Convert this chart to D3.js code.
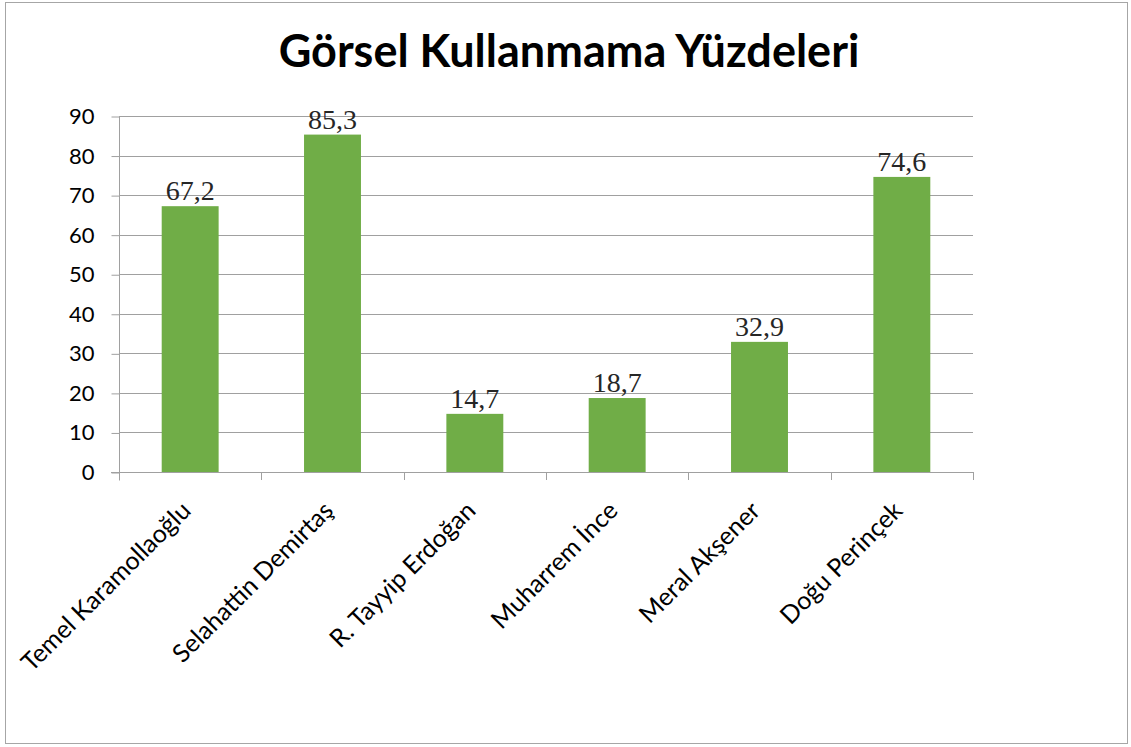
<!DOCTYPE html>
<html>
<head>
<meta charset="utf-8">
<script src="https://cdn.jsdelivr.net/npm/d3@7"></script>
<style>
  html, body { margin: 0; padding: 0; background: #ffffff; }
  svg { display: block; }
</style>
</head>
<body>
<svg id="chart" width="1131" height="747"></svg>
<script>
// Chart data
const categories = ["Temel Karamollaoğlu", "Selahattin Demirtaş", "R. Tayyip Erdoğan", "Muharrem İnce", "Meral Akşener", "Doğu Perinçek"];
const values = [67.2, 85.3, 14.7, 18.7, 32.9, 74.6];
const valueLabels = ["67,2", "85,3", "14,7", "18,7", "32,9", "74,6"];
const yTicks = [0, 10, 20, 30, 40, 50, 60, 70, 80, 90];
const title = "Görsel Kullanmama Yüzdeleri";

const sansFont = "Lato, 'Open Sans', 'Noto Sans', sans-serif";
const serifFont = "'Liberation Serif', 'DejaVu Serif', serif";

const svg = d3.select("#chart");

// Outer chart frame
svg.append("rect")
  .attr("x", 5.5).attr("y", 2.5)
  .attr("width", 1122).attr("height", 741)
  .attr("fill", "#fff")
  .attr("stroke", "#a6a6a6").attr("stroke-width", 1);

const plot = { left: 119, right: 973, top: 116, bottom: 472 };

const x = d3.scaleBand()
  .domain(categories)
  .range([plot.left, plot.right])
  .paddingInner(0.6)
  .paddingOuter(0.3);

const y = d3.scaleLinear()
  .domain([0, 90])
  .range([plot.bottom, plot.top]);

// Horizontal gridlines
svg.append("g")
  .selectAll("line")
  .data(yTicks.filter(d => d > 0))
  .join("line")
  .attr("x1", plot.left).attr("x2", plot.right)
  .attr("y1", d => Math.round(y(d)) + 0.5).attr("y2", d => Math.round(y(d)) + 0.5)
  .attr("stroke", "#a0a0a0").attr("stroke-width", 1);

// Bars
svg.append("g")
  .selectAll("rect")
  .data(values)
  .join("rect")
  .attr("x", (d, i) => x(categories[i]))
  .attr("y", d => y(d))
  .attr("width", x.bandwidth())
  .attr("height", d => y(0) - y(d))
  .attr("fill", "#70ad47");

// Y axis
const yAxis = d3.axisLeft(y)
  .tickValues(yTicks)
  .tickSize(8)
  .tickPadding(17)
  .tickFormat(d3.format("d"));

const gy = svg.append("g")
  .attr("transform", `translate(${plot.left + 0.5},0.5)`)
  .call(yAxis);
gy.select(".domain").attr("stroke", "#a0a0a0").attr("d", `M0,${plot.top}V${plot.bottom + 8}`);
gy.selectAll(".tick line").attr("stroke", "#a0a0a0");
gy.selectAll(".tick text")
  .attr("fill", "#000")
  .style("font-family", sansFont)
  .style("font-size", "22px");

// X axis: ticks at category boundaries
const boundaries = d3.range(categories.length + 1)
  .map(i => plot.left + i * (plot.right - plot.left) / categories.length);
const gx = svg.append("g");
gx.append("line")
  .attr("x1", plot.left - 8).attr("x2", plot.right)
  .attr("y1", plot.bottom + 0.5).attr("y2", plot.bottom + 0.5)
  .attr("stroke", "#a0a0a0");
gx.selectAll("line.tk")
  .data(boundaries)
  .join("line")
  .attr("class", "tk")
  .attr("x1", d => Math.round(d) + 0.5).attr("x2", d => Math.round(d) + 0.5)
  .attr("y1", plot.bottom).attr("y2", plot.bottom + 8)
  .attr("stroke", "#a0a0a0");

// Category labels, rotated
gx.selectAll("text")
  .data(categories)
  .join("text")
  .attr("transform", d => `translate(${x(d) + x.bandwidth() / 2 - 4},${plot.bottom + 34}) rotate(-45)`)
  .attr("text-anchor", "end")
  .attr("dy", "0.35em")
  .style("font-family", sansFont)
  .style("font-size", "25px")
  .attr("fill", "#000")
  .text(d => d);

// Value labels
svg.append("g")
  .selectAll("text")
  .data(values)
  .join("text")
  .attr("x", (d, i) => x(categories[i]) + x.bandwidth() / 2)
  .attr("y", d => y(d) - 6)
  .attr("text-anchor", "middle")
  .style("font-family", serifFont)
  .style("font-size", "28px")
  .attr("fill", "#262626")
  .text((d, i) => valueLabels[i]);

// Title
svg.append("text")
  .attr("x", 569).attr("y", 67)
  .attr("text-anchor", "middle")
  .style("font-family", sansFont)
  .style("font-weight", "bold")
  .style("font-size", "45px")
  .attr("fill", "#000")
  .text(title);
</script>
</body>
</html>
